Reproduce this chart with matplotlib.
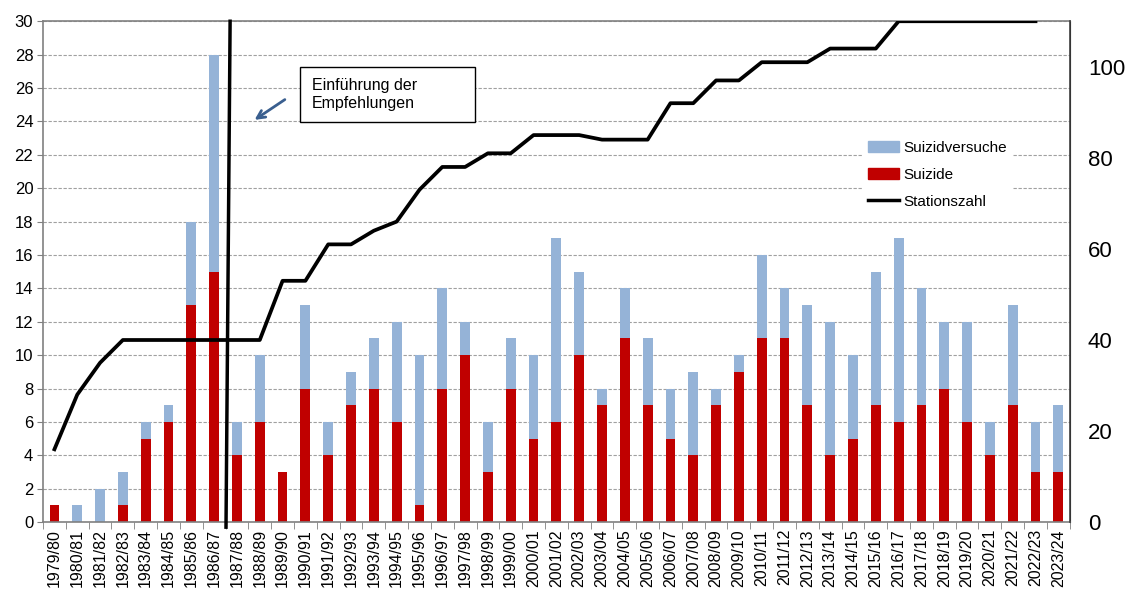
import matplotlib
matplotlib.use("Agg")
import matplotlib.pyplot as plt
import matplotlib.patches as mpatches
import matplotlib.lines as mlines
import numpy as np

plt.rcParams['font.family'] = ['Liberation Sans', 'DejaVu Sans']

seasons = ["1979/80", "1980/81", "1981/82", "1982/83", "1983/84", "1984/85", "1985/86",
           "1986/87", "1987/88", "1988/89", "1989/90", "1990/91", "1991/92", "1992/93",
           "1993/94", "1994/95", "1995/96", "1996/97", "1997/98", "1998/99", "1999/00",
           "2000/01", "2001/02", "2002/03", "2003/04", "2004/05", "2005/06", "2006/07",
           "2007/08", "2008/09", "2009/10", "2010/11", "2011/12", "2012/13", "2013/14",
           "2014/15", "2015/16", "2016/17", "2017/18", "2018/19", "2019/20", "2020/21",
           "2021/22", "2022/23", "2023/24"]
suizide = [1, 0, 0, 1, 5, 6, 13, 15, 4, 6, 3, 8, 4, 7, 8, 6, 1, 8, 10, 3, 8, 5, 6, 10, 7,
           11, 7, 5, 4, 7, 9, 11, 11, 7, 4, 5, 7, 6, 7, 8, 6, 4, 7, 3, 3]
versuche = [0, 1, 2, 2, 1, 1, 5, 13, 2, 4, 0, 5, 2, 2, 3, 6, 9, 6, 2, 3, 3, 5, 11, 5, 1,
            3, 4, 3, 5, 1, 1, 5, 3, 6, 8, 5, 8, 11, 7, 4, 6, 2, 6, 3, 4]
# Stationszahl (right axis), ends with 2022/23
stationen = [16, 28, 35, 40, 40, 40, 40, 40, 40, 40, 53, 53, 61, 61, 64, 66, 73, 78, 78,
             81, 81, 85, 85, 85, 84, 84, 84, 92, 92, 97, 97, 101, 101, 101, 104, 104, 104,
             110, 110, 110, 110, 110, 110, 110]

blue = "#95B3D7"
red = "#C00000"

fig = plt.figure(figsize=(11.32, 5.90), dpi=100)
ax = fig.add_axes([0.038, 0.115, 0.907, 0.849])
x = np.arange(len(seasons))

ax.bar(x, suizide, width=0.43, color=red, zorder=2)
ax.bar(x, versuche, width=0.43, bottom=suizide, color=blue, zorder=2)

ax.set_xlim(-0.5, len(seasons) - 0.5)
ax.set_ylim(0, 30)
ax.set_yticks(range(0, 31, 2))
ax.tick_params(axis='y', labelsize=12, length=4, color='#808080', pad=3)
ax.set_xticks(x)
ax.set_xticklabels(seasons, rotation=90, fontsize=11.5)
ax.set_xticks(np.arange(-0.5, len(seasons), 1), minor=True)
ax.tick_params(axis='x', which='major', length=0, pad=5)
ax.tick_params(axis='x', which='minor', length=5, color='#808080')
ax.grid(axis='y', color='#a0a0a0', linestyle=(0, (3, 1.5)), linewidth=0.8, zorder=0)
for s in ['left', 'top', 'bottom']:
    ax.spines[s].set_color('#808080')
    ax.spines[s].set_linewidth(1.2)

ax2 = ax.twinx()
ax2.plot(x[:len(stationen)], stationen, color='black', linewidth=2.7, zorder=3)
ax2.set_ylim(0, 110)
ax2.set_yticks(range(0, 101, 20))
ax2.tick_params(axis='y', labelsize=16, length=0, pad=13)
ax2.spines['right'].set_color('#404040')
ax2.spines['right'].set_linewidth(1.2)
for s in ['left', 'top', 'bottom']:
    ax2.spines[s].set_visible(False)

# vertical marker line
ax.plot([7.7, 7.52], [30, -0.3], color='black', linewidth=2.5, zorder=4, clip_on=False)

ax.annotate("", xy=(8.67, 24.0), xytext=(10.2, 25.4),
            arrowprops=dict(arrowstyle='->', color='#3A5F8F', lw=2, mutation_scale=14), zorder=5)
ax.add_patch(mpatches.Rectangle((10.77, 23.95), 7.68, 3.3, facecolor='white',
                                edgecolor='black', linewidth=1, zorder=5))
ax.text(11.3, 25.6, "Einführung der\nEmpfehlungen", fontsize=11.5, va='center', ha='left',
        linespacing=1.25, zorder=6)

handles = [mpatches.Patch(color=blue), mpatches.Patch(color=red),
           mlines.Line2D([], [], color='black', linewidth=2.5)]
leg = ax2.legend(handles, ["Suizidversuche", "Suizide", "Stationszahl"],
                 loc='upper left', bbox_to_anchor=(0.755, 0.785), bbox_transform=fig.transFigure,
                 fontsize=11, frameon=True, fancybox=False, edgecolor='none', facecolor='white',
                 framealpha=1, handlelength=2.0, handletextpad=0.3, labelspacing=0.85,
                 borderpad=0.4)

fig.savefig("out.png", dpi=100)
